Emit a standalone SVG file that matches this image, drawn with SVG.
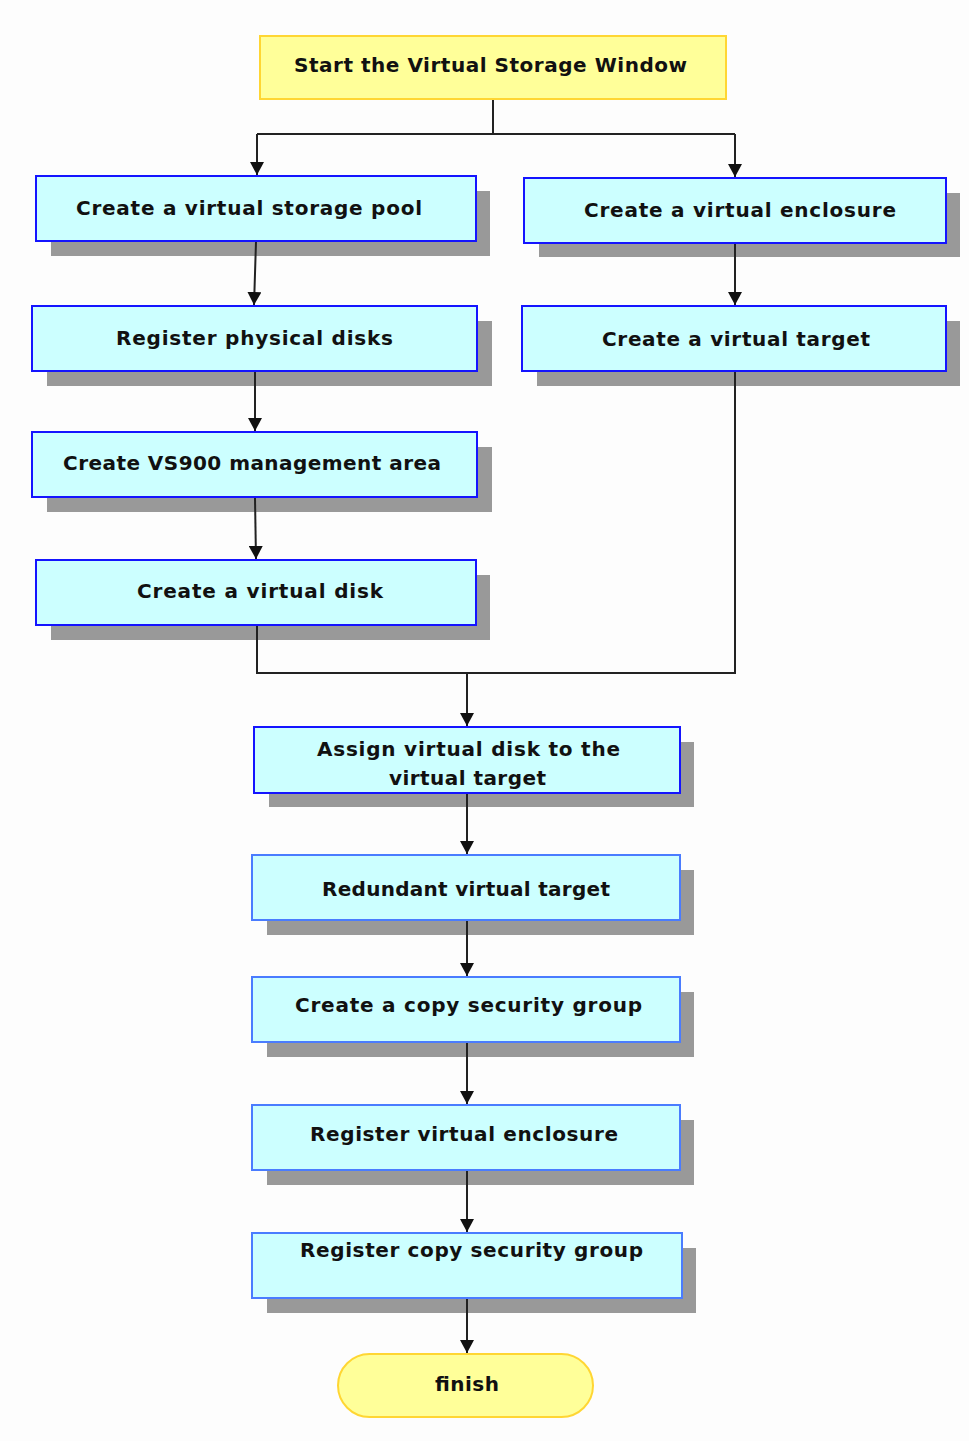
<svg xmlns="http://www.w3.org/2000/svg" width="969" height="1441" viewBox="0 0 969 1441">
<style>
.sh{fill:#999999}
.b1{fill:#CCFFFF;stroke:#1414FF;stroke-width:2}
.b2{fill:#CCFFFF;stroke:#4A7CFF;stroke-width:2}
.t{font-family:"DejaVu Sans","Liberation Sans",Arial,sans-serif;font-weight:bold;font-size:20px;fill:#111111}
.c{fill:none;stroke:#222222;stroke-width:2}
</style>
<defs>
<marker id="ah" markerWidth="13" markerHeight="14" refX="13" refY="7" orient="auto" markerUnits="userSpaceOnUse" viewBox="0 0 13 14">
<path d="M0,0 L13,7 L0,14 Z" fill="#111111"/>
</marker>
</defs>
<rect width="969" height="1441" fill="#FDFDFD"/>
<g id="start">
<rect x="260" y="36" width="466" height="63" fill="#FFFF99" stroke="#FFD633" stroke-width="2"/>
<text class="t" x="294" y="72" textLength="393" lengthAdjust="spacing">Start the Virtual Storage Window</text>
</g>
<g id="pool">
<rect class="sh" x="51" y="191" width="439" height="65"/>
<rect class="b1" x="36" y="176" width="440" height="65"/>
<text class="t" x="76" y="215" textLength="346" lengthAdjust="spacing">Create a virtual storage pool</text>
</g>
<g id="enclosure">
<rect class="sh" x="539" y="193" width="421" height="64"/>
<rect class="b1" x="524" y="178" width="422" height="65"/>
<text class="t" x="584" y="217" textLength="312" lengthAdjust="spacing">Create a virtual enclosure</text>
</g>
<g id="physical">
<rect class="sh" x="47" y="321" width="445" height="65"/>
<rect class="b1" x="32" y="306" width="445" height="65"/>
<text class="t" x="116" y="345" textLength="277" lengthAdjust="spacing">Register physical disks</text>
</g>
<g id="target">
<rect class="sh" x="537" y="321" width="423" height="65"/>
<rect class="b1" x="522" y="306" width="424" height="65"/>
<text class="t" x="602" y="346" textLength="268" lengthAdjust="spacing">Create a virtual target</text>
</g>
<g id="vs900">
<rect class="sh" x="47" y="447" width="445" height="65"/>
<rect class="b1" x="32" y="432" width="445" height="65"/>
<text class="t" x="63" y="470" textLength="378" lengthAdjust="spacing">Create VS900 management area</text>
</g>
<g id="vdisk">
<rect class="sh" x="51" y="575" width="439" height="65"/>
<rect class="b1" x="36" y="560" width="440" height="65"/>
<text class="t" x="137" y="598" textLength="246" lengthAdjust="spacing">Create a virtual disk</text>
</g>
<g id="assign">
<rect class="sh" x="269" y="742" width="425" height="65"/>
<rect class="b1" x="254" y="727" width="426" height="66"/>
<text class="t" x="317" y="756" textLength="303" lengthAdjust="spacing">Assign virtual disk to the</text>
<text class="t" x="389" y="785" textLength="157" lengthAdjust="spacing">virtual target</text>
</g>
<g id="redundant">
<rect class="sh" x="267" y="870" width="427" height="65"/>
<rect class="b2" x="252" y="855" width="428" height="65"/>
<text class="t" x="322" y="896" textLength="288" lengthAdjust="spacing">Redundant virtual target</text>
</g>
<g id="copygroup">
<rect class="sh" x="267" y="992" width="427" height="65"/>
<rect class="b2" x="252" y="977" width="428" height="65"/>
<text class="t" x="295" y="1012" textLength="347" lengthAdjust="spacing">Create a copy security group</text>
</g>
<g id="regenclosure">
<rect class="sh" x="267" y="1120" width="427" height="65"/>
<rect class="b2" x="252" y="1105" width="428" height="65"/>
<text class="t" x="310" y="1141" textLength="308" lengthAdjust="spacing">Register virtual enclosure</text>
</g>
<g id="regcopy">
<rect class="sh" x="267" y="1248" width="429" height="65"/>
<rect class="b2" x="252" y="1233" width="430" height="65"/>
<text class="t" x="300" y="1257" textLength="343" lengthAdjust="spacing">Register copy security group</text>
</g>
<g id="finish">
<rect x="338" y="1354" width="255" height="63" rx="31.5" ry="31.5" fill="#FFFF99" stroke="#FFD633" stroke-width="2"/>
<text class="t" x="435" y="1391" textLength="64" lengthAdjust="spacing">finish</text>
</g>
<g id="connectors">
<path class="c" d="M493,100 V134"/>
<path class="c" d="M257,134 H735"/>
<path class="c" d="M257,134 V175" marker-end="url(#ah)"/>
<path class="c" d="M735,134 V177" marker-end="url(#ah)"/>
<path class="c" d="M256,242 L254,305" marker-end="url(#ah)"/>
<path class="c" d="M735,244 V305" marker-end="url(#ah)"/>
<path class="c" d="M255,372 V431" marker-end="url(#ah)"/>
<path class="c" d="M255,498 L256,559" marker-end="url(#ah)"/>
<path class="c" d="M257,626 V673 H735 V372"/>
<path class="c" d="M467,673 V726" marker-end="url(#ah)"/>
<path class="c" d="M467,794 V854" marker-end="url(#ah)"/>
<path class="c" d="M467,921 V976" marker-end="url(#ah)"/>
<path class="c" d="M467,1043 V1104" marker-end="url(#ah)"/>
<path class="c" d="M467,1171 V1232" marker-end="url(#ah)"/>
<path class="c" d="M467,1299 V1353" marker-end="url(#ah)"/>
</g>
</svg>
